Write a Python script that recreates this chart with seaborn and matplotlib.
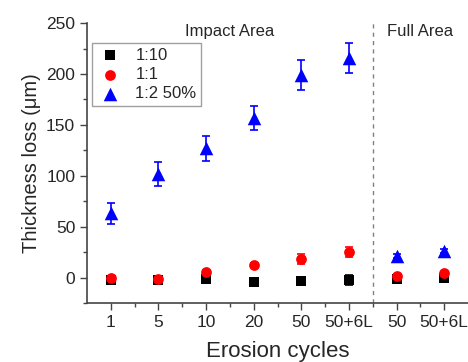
import numpy as np
import pandas as pd
import matplotlib
matplotlib.use("Agg")
import matplotlib.pyplot as plt
import seaborn as sns

categories = ["1", "5", "10", "20", "50", "50+6L", "50", "50+6L"]
positions = [1, 2, 3, 4, 5, 6, 7, 8]

s110 = [-2, -2, -1, -4, -3, -2, -1, 0]
s110_err = [1, 1, 2, 4, 4, 5, 1, 1]
s11 = [0, -1, 5, 12, 18, 25, 2, 4]
s11_err = [1, 1, 2, 2, 5, 5, 1, 1]
s12 = [63, 102, 127, 157, 199, 216, 21, 26]
s12_err = [10, 12, 12, 12, 15, 15, 2, 2]

series_names = ["1:10", "1:1", "1:2 50%"]

sns.set_style("ticks")
plt.rcParams['font.family'] = ['Liberation Sans', 'DejaVu Sans']

rows = []
for name, vals, errs in zip(series_names, [s110, s11, s12], [s110_err, s11_err, s12_err]):
    for p, v, e in zip(positions, vals, errs):
        rows.append({"pos": p, "val": v, "err": e, "series": name})
df = pd.DataFrame(rows)

fig = plt.figure(figsize=(4.68, 3.62), dpi=100)
ax = fig.add_axes([0.186, 0.163, 0.814, 0.773])

colors = {"1:10": "black", "1:1": "red", "1:2 50%": "blue"}
markers = {"1:10": "s", "1:1": "o", "1:2 50%": "^"}
sizes = {"1:10": 50, "1:1": 60, "1:2 50%": 95}

for name in series_names:
    sub = df[df.series == name]
    ax.errorbar(sub.pos, sub.val, yerr=sub.err, fmt="none", ecolor=colors[name],
                elinewidth=1.2, capsize=2.8, capthick=1.2, zorder=2)
    sns.scatterplot(data=sub, x="pos", y="val", color=colors[name], marker=markers[name],
                    s=sizes[name], edgecolor=colors[name], linewidth=0, ax=ax,
                    label=name, zorder=3)

ax.set_xlim(0.5, 8.5)
ax.set_ylim(-25, 250)
ax.set_xticks(positions)
ax.set_xticklabels(categories)
ax.set_xticks([1.5, 2.5, 3.5, 4.5, 5.5, 6.5, 7.5], minor=True)
ax.set_yticks([0, 50, 100, 150, 200, 250])
ax.set_yticks([-25, 25, 75, 125, 175, 225], minor=True)
ax.tick_params(axis="both", which="major", labelsize=12.5, length=5, width=1, color="#444444")
ax.tick_params(axis="both", which="minor", length=3, width=1, color="#444444")

for sp in ["top", "right"]:
    ax.spines[sp].set_visible(False)
for sp in ["left", "bottom"]:
    ax.spines[sp].set_color("#444444")
    ax.spines[sp].set_linewidth(1.2)

ax.axvline(6.5, color="gray", linestyle=(0, (3, 3)), linewidth=1)
ax.text(3.5, 242, "Impact Area", ha="center", va="center", fontsize=12)
ax.text(7.5, 242, "Full Area", ha="center", va="center", fontsize=12)

ax.set_xlabel("Erosion cycles", fontsize=16, labelpad=8)
ax.set_ylabel("Thickness loss (\u03bcm)", fontsize=14.5, labelpad=4)

leg = ax.legend(loc="upper left", bbox_to_anchor=(0.013, 0.93), borderaxespad=0,
                fontsize=12, frameon=True,
                fancybox=False, edgecolor="#888888", handletextpad=0.8,
                borderpad=0.3, labelspacing=0.25, handlelength=1.5)
leg.get_frame().set_linewidth(1)

fig.savefig("out.png", dpi=100)
